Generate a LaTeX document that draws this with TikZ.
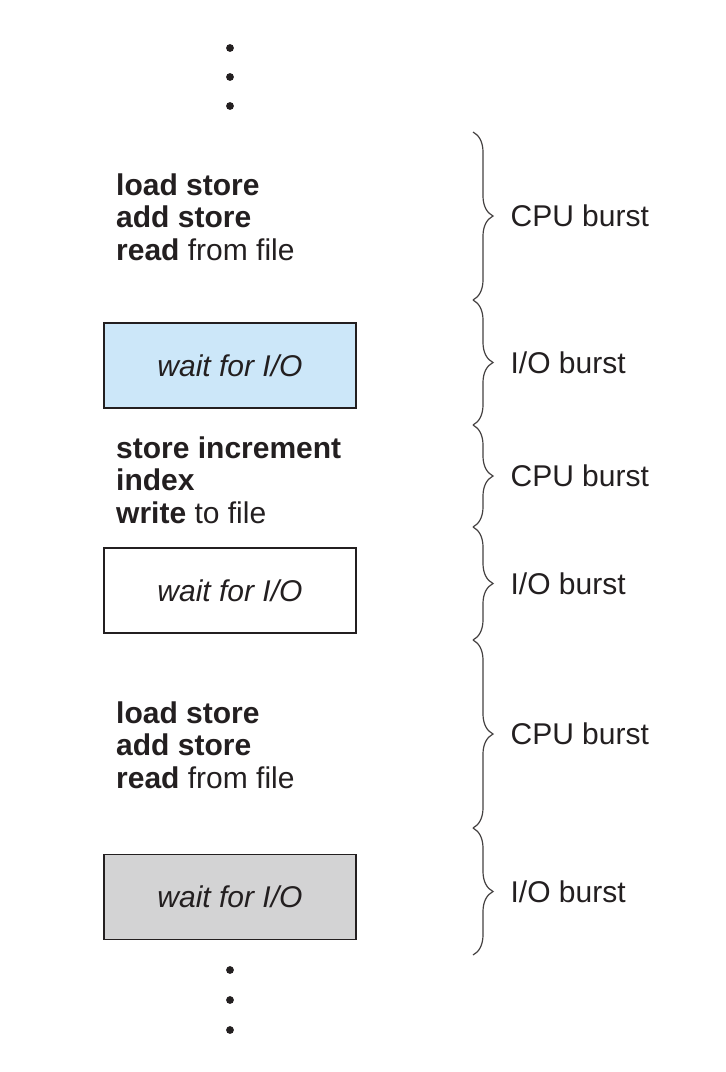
\documentclass[tikz,border=0pt]{standalone}
\usepackage{fontspec}
\setmainfont{Liberation Sans}
\usetikzlibrary{decorations.pathreplacing}
\definecolor{waitblue}{RGB}{204,231,249}
\definecolor{waitgray}{RGB}{211,211,212}
\definecolor{ink}{RGB}{35,31,32}
\begin{document}
\begin{tikzpicture}[x=1pt, y=-1pt,
    txt/.style={font=\fontsize{30}{32.5}\selectfont, text=ink},
    codetxt/.style={txt, anchor=west, align=left, inner sep=0pt},
    waitbox/.style={txt, draw=ink, line width=1.4pt, minimum width=252pt,
        minimum height=85pt, inner sep=0pt, font=\fontsize{30}{32.5}\selectfont\itshape},
    brc/.style={draw=ink!85, line width=1.2pt,
        decorate, decoration={brace, amplitude=20pt}},
    burst/.style={txt, midway, anchor=west, inner sep=0pt, xshift=37pt}]
    \useasboundingbox (0,0) rectangle (726,1072);

    % ---- Puntos suspensivos ----
    \foreach \y in {48,77,106,970,1000,1030}
        \fill[ink] (230,\y) circle (3.9pt);

    % ---- Columna de instrucciones ----
    \node[codetxt] (cpu1) at (116,217)
        {\textbf{load store}\\\textbf{add store}\\\textbf{read} from file};
    \node[waitbox, fill=waitblue] (io1) at (230,365.5) {wait for I/O};

    \node[codetxt] (cpu2) at (116,480)
        {\textbf{store increment}\\\textbf{index}\\\textbf{write} to file};
    \node[waitbox, fill=white] (io2) at (230,590.5) {wait for I/O};

    \node[codetxt] (cpu3) at (116,745)
        {\textbf{load store}\\\textbf{add store}\\\textbf{read} from file};
    \node[waitbox, fill=waitgray] (io3) at (230,897) {wait for I/O};

    % ---- Llaves de rafagas ----
    \coordinate (b0) at (473,132);
    \coordinate (b1) at (473,300);
    \coordinate (b2) at (473,425);
    \coordinate (b3) at (473,527);
    \coordinate (b4) at (473,640);
    \coordinate (b5) at (473,828);
    \coordinate (b6) at (473,955);

    \draw[brc] (b0) -- (b1) node[burst] (lbl1) {CPU burst};
    \draw[brc] (b1) -- (b2) node[burst] (lbl2) {I/O burst};
    \draw[brc] (b2) -- (b3) node[burst] (lbl3) {CPU burst};
    \draw[brc] (b3) -- (b4) node[burst] (lbl4) {I/O burst};
    \draw[brc] (b4) -- (b5) node[burst] (lbl5) {CPU burst};
    \draw[brc] (b5) -- (b6) node[burst] (lbl6) {I/O burst};
\end{tikzpicture}
\end{document}
